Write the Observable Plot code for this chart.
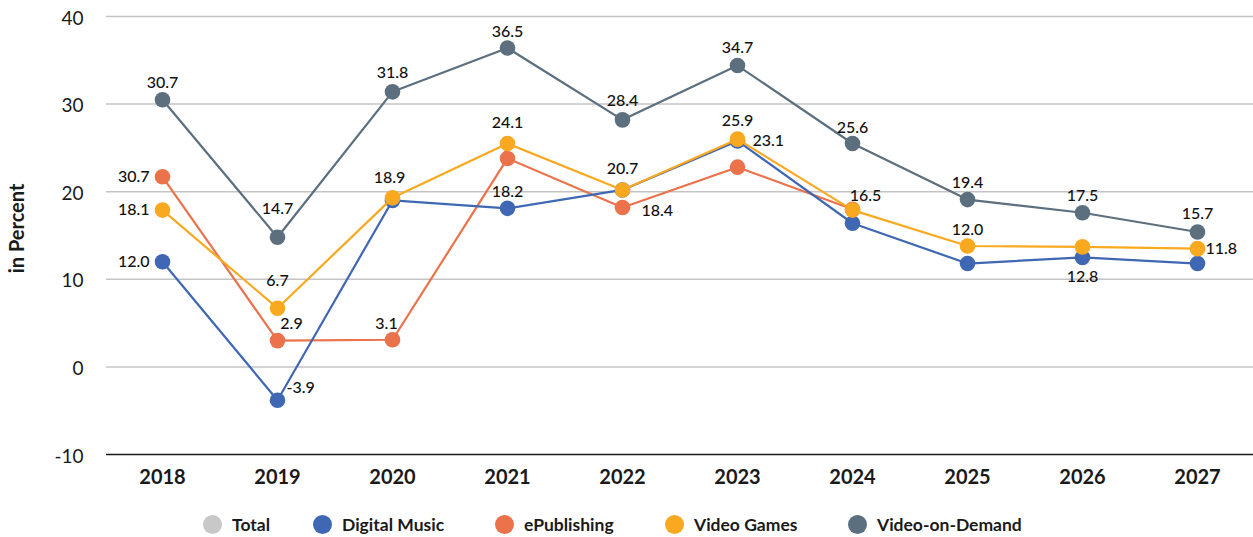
<!DOCTYPE html>
<html>
<head>
<meta charset="utf-8">
<script src="https://cdn.jsdelivr.net/npm/d3@7"></script>
<script src="https://cdn.jsdelivr.net/npm/@observablehq/plot@0.6"></script>
<style>
  html, body { margin: 0; padding: 0; background: #fff; }
  body { width: 1253px; height: 537px; overflow: hidden; font-family: Lato, "Open Sans", sans-serif; }
  #chart svg { display: block; }
  #legend { position: relative; height: 37px; font-family: Lato, sans-serif; font-weight: bold; font-size: 17.5px; color: #1a1a1a; }
  .item { position: absolute; top: 14px; display: flex; align-items: center; white-space: nowrap; }
  .sw { width: 19px; height: 19px; border-radius: 50%; margin-right: 10px; }
</style>
</head>
<body>
<div id="chart"></div>
<div id="legend"></div>
<script>
// ---- data ----
const years = ["2018","2019","2020","2021","2022","2023","2024","2025","2026","2027"];
const yTicks = [-10, 0, 10, 20, 30, 40];

const legendNames = ["Total", "Digital Music", "ePublishing", "Video Games", "Video-on-Demand"];

const digitalMusic  = [12.0, -3.8, 19.0, 18.1, 20.2, 25.8, 16.4, 11.8, 12.5, 11.8];
const ePublishing   = [21.7, 3.0, 3.1, 23.8, 18.2, 22.8, 18.0, null, null, null];
const videoGames    = [17.9, 6.7, 19.3, 25.5, 20.2, 26.0, 17.9, 13.8, 13.7, 13.5];
const videoOnDemand = [30.5, 14.8, 31.4, 36.4, 28.2, 34.4, 25.5, 19.1, 17.6, 15.4];

// label texts as printed on the chart
const digitalMusicLabels  = ["12.0", "-3.9", null, "18.2", null, "23.1", null, null, "12.8", null];
const ePublishingLabels   = ["30.7", "2.9", "3.1", null, "18.4", null, null, null, null, null];
const videoGamesLabels    = ["18.1", "6.7", "18.9", "24.1", "20.7", "25.9", "16.5", "12.0", null, "11.8"];
const videoOnDemandLabels = ["30.7", "14.7", "31.8", "36.5", "28.4", "34.7", "25.6", "19.4", "17.5", "15.7"];

// ---- styling ----
const colors = {
  "Total": "#c8c8c8",
  "Digital Music": "#3f67b4",
  "ePublishing": "#eb724a",
  "Video Games": "#f9a91f",
  "Video-on-Demand": "#5c6f7e"
};

const series = [
  {name: "ePublishing", values: ePublishing, labels: ePublishingLabels},
  {name: "Digital Music", values: digitalMusic, labels: digitalMusicLabels},
  {name: "Video Games", values: videoGames, labels: videoGamesLabels},
  {name: "Video-on-Demand", values: videoOnDemand, labels: videoOnDemandLabels}
];

// label placement (offsets from point)
const above = (dy) => ({dx: 0, dy, anchor: "middle"});
const left = {dx: -13, dy: 0, anchor: "end"};
const placement = {
  "Video-on-Demand": [above(-17), above(-28), above(-19), above(-16), above(-19), above(-18), above(-16), above(-17), above(-17), above(-18)],
  "Video Games": [left, above(-27), {dx: -3, dy: -20, anchor: "middle"}, above(-21), above(-21), above(-18), {dx: 13, dy: -14, anchor: "middle"}, above(-16), null, {dx: 8, dy: 0, anchor: "start"}],
  "ePublishing": [left, {dx: 14, dy: -17, anchor: "middle"}, {dx: -6, dy: -16, anchor: "middle"}, null, {dx: 19, dy: 3, anchor: "start"}, null, null, null, null, null],
  "Digital Music": [left, {dx: 9, dy: -12, anchor: "start"}, null, above(-16), null, {dx: 15, dy: 0, anchor: "start"}, null, null, above(19), null]
};

const marks = [
  Plot.ruleY(yTicks.filter(t => t !== -10), {stroke: "#c4c4c4", strokeWidth: 1.5}),
  Plot.ruleY([-10], {stroke: "#1a1a1a", strokeWidth: 1.5}),
  Plot.axisY({ticks: yTicks, tickSize: 0, tickPadding: 23, fontSize: 19, dy: 2, label: null, tickFormat: d => String(d)}),
  Plot.axisX({tickSize: 0, tickPadding: 15, fontSize: 20, fontWeight: "bold", label: null}),
  Plot.text(["in Percent"], {frameAnchor: "left", dx: -89, dy: -7, rotate: -90, textAnchor: "middle", fontSize: 20, fontWeight: "bold", fill: "#1a1a1a"})
];

for (const s of series) {
  const rows = years.map((year, i) => ({year, value: s.values[i], label: s.labels[i]})).filter(d => d.value != null);
  marks.push(Plot.line(rows, {x: "year", y: "value", stroke: colors[s.name], strokeWidth: 2.2}));
  marks.push(Plot.dot(rows, {x: "year", y: "value", r: 7.8, fill: colors[s.name], stroke: "none"}));
}
for (const s of series) {
  years.forEach((year, i) => {
    const lab = s.labels[i];
    const p = placement[s.name][i];
    if (lab == null || p == null || s.values[i] == null) return;
    marks.push(Plot.text([{year, value: s.values[i], label: lab}], {
      x: "year", y: "value", text: "label",
      dx: p.dx, dy: p.dy, textAnchor: p.anchor,
      fontSize: 16, fontWeight: 500, fill: "#111"
    }));
  });
}

const chart = Plot.plot({
  width: 1253,
  height: 500,
  marginLeft: 106,
  marginRight: 0,
  marginTop: 16,
  marginBottom: 46,
  style: {fontFamily: "Lato, sans-serif", color: "#1a1a1a", background: "#fff", overflow: "visible"},
  x: {type: "point", domain: years, range: [159, 1199], padding: 0},
  y: {domain: [-10, 40], range: [454, 16]},
  marks
});
document.getElementById("chart").appendChild(chart);

// legend
const legendLeft = [203, 313, 495, 665, 848];
const legend = document.getElementById("legend");
legendNames.forEach((name, i) => {
  const item = document.createElement("div");
  item.className = "item";
  item.style.left = legendLeft[i] + "px";
  const sw = document.createElement("span");
  sw.className = "sw";
  sw.style.background = colors[name];
  const t = document.createElement("span");
  t.textContent = name;
  item.appendChild(sw);
  item.appendChild(t);
  legend.appendChild(item);
});
</script>
</body>
</html>
